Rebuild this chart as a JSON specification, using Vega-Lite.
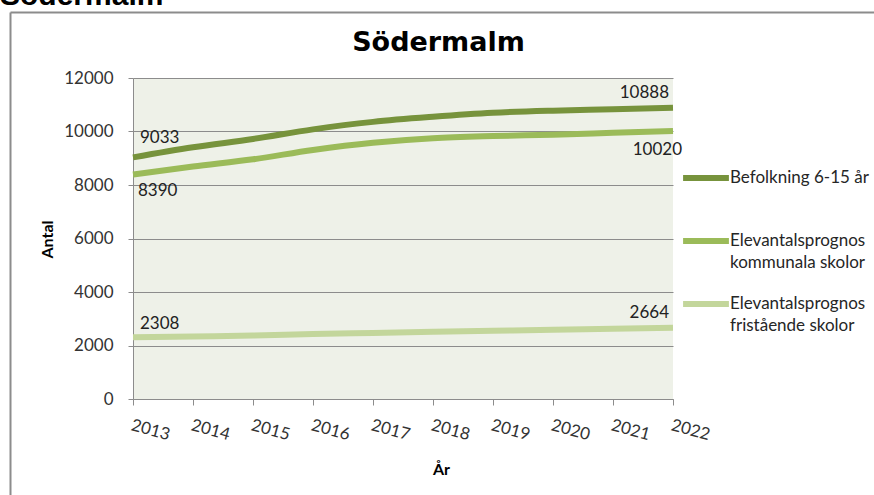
{
  "$schema": "https://vega.github.io/schema/vega-lite/v6.json",
  "autosize": {"type": "none"},
  "width": 540,
  "height": 321,
  "padding": {"left": 133, "top": 78, "right": 201, "bottom": 96},
  "background": "white",
  "title": {"text": "Södermalm", "anchor": "start", "frame": "group", "dx": -133, "dy": 30, "offset": 6, "baseline": "alphabetic", "fontSize": 30, "font": "Liberation Sans", "fontWeight": "bold", "color": "black"},
  "data": {"values": [
    {"year": 2013, "series": "Befolkning 6-15 år", "value": 9033},
    {"year": 2014, "series": "Befolkning 6-15 år", "value": 9410},
    {"year": 2015, "series": "Befolkning 6-15 år", "value": 9720},
    {"year": 2016, "series": "Befolkning 6-15 år", "value": 10080},
    {"year": 2017, "series": "Befolkning 6-15 år", "value": 10360},
    {"year": 2018, "series": "Befolkning 6-15 år", "value": 10550},
    {"year": 2019, "series": "Befolkning 6-15 år", "value": 10700},
    {"year": 2020, "series": "Befolkning 6-15 år", "value": 10780},
    {"year": 2021, "series": "Befolkning 6-15 år", "value": 10830},
    {"year": 2022, "series": "Befolkning 6-15 år", "value": 10888},
    {"year": 2013, "series": "Elevantalsprognos kommunala skolor", "value": 8390},
    {"year": 2014, "series": "Elevantalsprognos kommunala skolor", "value": 8690},
    {"year": 2015, "series": "Elevantalsprognos kommunala skolor", "value": 8960},
    {"year": 2016, "series": "Elevantalsprognos kommunala skolor", "value": 9310},
    {"year": 2017, "series": "Elevantalsprognos kommunala skolor", "value": 9580},
    {"year": 2018, "series": "Elevantalsprognos kommunala skolor", "value": 9750},
    {"year": 2019, "series": "Elevantalsprognos kommunala skolor", "value": 9830},
    {"year": 2020, "series": "Elevantalsprognos kommunala skolor", "value": 9880},
    {"year": 2021, "series": "Elevantalsprognos kommunala skolor", "value": 9950},
    {"year": 2022, "series": "Elevantalsprognos kommunala skolor", "value": 10020},
    {"year": 2013, "series": "Elevantalsprognos fristående skolor", "value": 2308},
    {"year": 2014, "series": "Elevantalsprognos fristående skolor", "value": 2340},
    {"year": 2015, "series": "Elevantalsprognos fristående skolor", "value": 2370},
    {"year": 2016, "series": "Elevantalsprognos fristående skolor", "value": 2430},
    {"year": 2017, "series": "Elevantalsprognos fristående skolor", "value": 2470},
    {"year": 2018, "series": "Elevantalsprognos fristående skolor", "value": 2510},
    {"year": 2019, "series": "Elevantalsprognos fristående skolor", "value": 2550},
    {"year": 2020, "series": "Elevantalsprognos fristående skolor", "value": 2590},
    {"year": 2021, "series": "Elevantalsprognos fristående skolor", "value": 2625},
    {"year": 2022, "series": "Elevantalsprognos fristående skolor", "value": 2664}
  ]},
  "resolve": {"axis": {"x": "independent", "y": "independent"}},
  "layer": [
    {
      "mark": {"type": "line", "strokeWidth": 6, "interpolate": "monotone"},
      "encoding": {
        "x": {"field": "year", "type": "ordinal", "scale": {"type": "point", "padding": 0},
          "axis": {"orient": "bottom", "grid": false, "domainColor": "#8c8c8c", "domainWidth": 1, "tickColor": "#8c8c8c", "tickSize": 6, "labelAngle": 15, "labelAlign": "left", "labelBaseline": "top", "labelPadding": 12, "labelOverlap": false, "labelFont": "Lato", "labelFontSize": 17, "labelColor": "#333333",
            "title": "År", "titleFont": "Lato", "titleFontSize": 16, "titleFontWeight": "bold", "titleColor": "black", "titleX": 308, "titleY": 75, "titleAlign": "center", "titleBaseline": "alphabetic", "titleAngle": 0}},
        "y": {"field": "value", "type": "quantitative", "scale": {"domain": [0, 12000], "nice": false},
          "axis": {"orient": "left", "values": [0, 2000, 4000, 6000, 8000, 10000, 12000], "format": "d", "grid": true, "gridColor": "#8c8c8c", "gridWidth": 1, "domainColor": "#8c8c8c", "tickColor": "#8c8c8c", "tickSize": 5, "labelPadding": 15, "labelFont": "Lato", "labelFontSize": 17, "labelColor": "#333333",
            "title": "Antal", "titleFont": "Lato", "titleFontSize": 16, "titleFontWeight": "bold", "titleColor": "black", "titleX": -86, "titleY": 161, "titleAngle": -90, "titleAlign": "center", "titleBaseline": "middle"}},
        "color": {"field": "series", "type": "nominal",
          "scale": {"domain": ["Befolkning 6-15 år", "Elevantalsprognos kommunala skolor", "Elevantalsprognos fristående skolor"], "range": ["#77933C", "#9BBB59", "#C3D69B"]},
          "legend": {"orient": "none", "legendX": 547, "legendY": 74, "title": null, "padding": 0, "gridAlign": "all", "rowPadding": 7, "symbolType": "stroke", "symbolSize": 2100, "symbolStrokeWidth": 6, "labelFont": "Lato", "labelFontSize": 17, "labelColor": "#262626", "labelLimit": 300, "labelOffset": -2, "labelBaseline": "top",
            "labelExpr": "datum.label == 'Befolkning 6-15 år' ? datum.label : [slice(datum.label, 0, 17), slice(datum.label, 18)]",
            "encode": {"labels": {"update": {"dy": {"value": -8}}}}}}
      }
    },
    {
      "transform": [{"filter": "datum.year == 2013 && datum.series == 'Befolkning 6-15 år'"}],
      "mark": {"type": "text", "align": "left", "baseline": "alphabetic", "dx": 7, "dy": -14, "font": "Lato", "fontSize": 17, "color": "#222222"},
      "encoding": {
        "x": {"field": "year", "type": "ordinal",
          "axis": {"orient": "bottom", "offset": -387, "values": [2013], "tickOffset": -123, "tickSize": 500, "tickColor": "#8c8c8c", "tickWidth": 2, "domain": false, "labels": false, "grid": false,
            "title": "Södermalm", "titleFont": "DejaVu Sans", "titleFontSize": 27, "titleFontWeight": "bold", "titleColor": "black", "titleX": 305, "titleY": 38, "titleAlign": "center", "titleBaseline": "alphabetic", "titleAngle": 0}},
        "y": {"field": "value", "type": "quantitative",
          "axis": {"orient": "right", "offset": -663, "values": [12000], "tickOffset": -66, "tickSize": 900, "tickColor": "#8c8c8c", "tickWidth": 2, "domain": false, "labels": false, "grid": false, "title": null}},
        "text": {"field": "value", "type": "quantitative", "format": "d"}
      }
    },
    {
      "transform": [{"filter": "datum.year == 2013 && datum.series == 'Elevantalsprognos kommunala skolor'"}],
      "mark": {"type": "text", "align": "left", "baseline": "alphabetic", "dx": 5, "dy": 21, "font": "Lato", "fontSize": 17, "color": "#222222"},
      "encoding": {
        "x": {"field": "year", "type": "ordinal", "axis": null},
        "y": {"field": "value", "type": "quantitative", "axis": null},
        "text": {"field": "value", "type": "quantitative", "format": "d"}
      }
    },
    {
      "transform": [{"filter": "datum.year == 2013 && datum.series == 'Elevantalsprognos fristående skolor'"}],
      "mark": {"type": "text", "align": "left", "baseline": "alphabetic", "dx": 7, "dy": -8, "font": "Lato", "fontSize": 17, "color": "#222222"},
      "encoding": {
        "x": {"field": "year", "type": "ordinal", "axis": null},
        "y": {"field": "value", "type": "quantitative", "axis": null},
        "text": {"field": "value", "type": "quantitative", "format": "d"}
      }
    },
    {
      "transform": [{"filter": "datum.year == 2022 && datum.series != 'Elevantalsprognos kommunala skolor'"}],
      "mark": {"type": "text", "align": "right", "baseline": "alphabetic", "dx": -4, "dy": -10, "font": "Lato", "fontSize": 17, "color": "#222222"},
      "encoding": {
        "x": {"field": "year", "type": "ordinal", "axis": null},
        "y": {"field": "value", "type": "quantitative", "axis": null},
        "text": {"field": "value", "type": "quantitative", "format": "d"}
      }
    },
    {
      "transform": [{"filter": "datum.year == 2022 && datum.series == 'Elevantalsprognos kommunala skolor'"}],
      "mark": {"type": "text", "align": "right", "baseline": "alphabetic", "dx": 9, "dy": 24, "font": "Lato", "fontSize": 17, "color": "#222222"},
      "encoding": {
        "x": {"field": "year", "type": "ordinal", "axis": null},
        "y": {"field": "value", "type": "quantitative", "axis": null},
        "text": {"field": "value", "type": "quantitative", "format": "d"}
      }
    }
  ],
  "config": {
    "view": {"fill": "#EEF1E8", "stroke": null},
    "font": "Lato",
    "style": {"guide-label": {"lineHeight": 22}}
  }
}
